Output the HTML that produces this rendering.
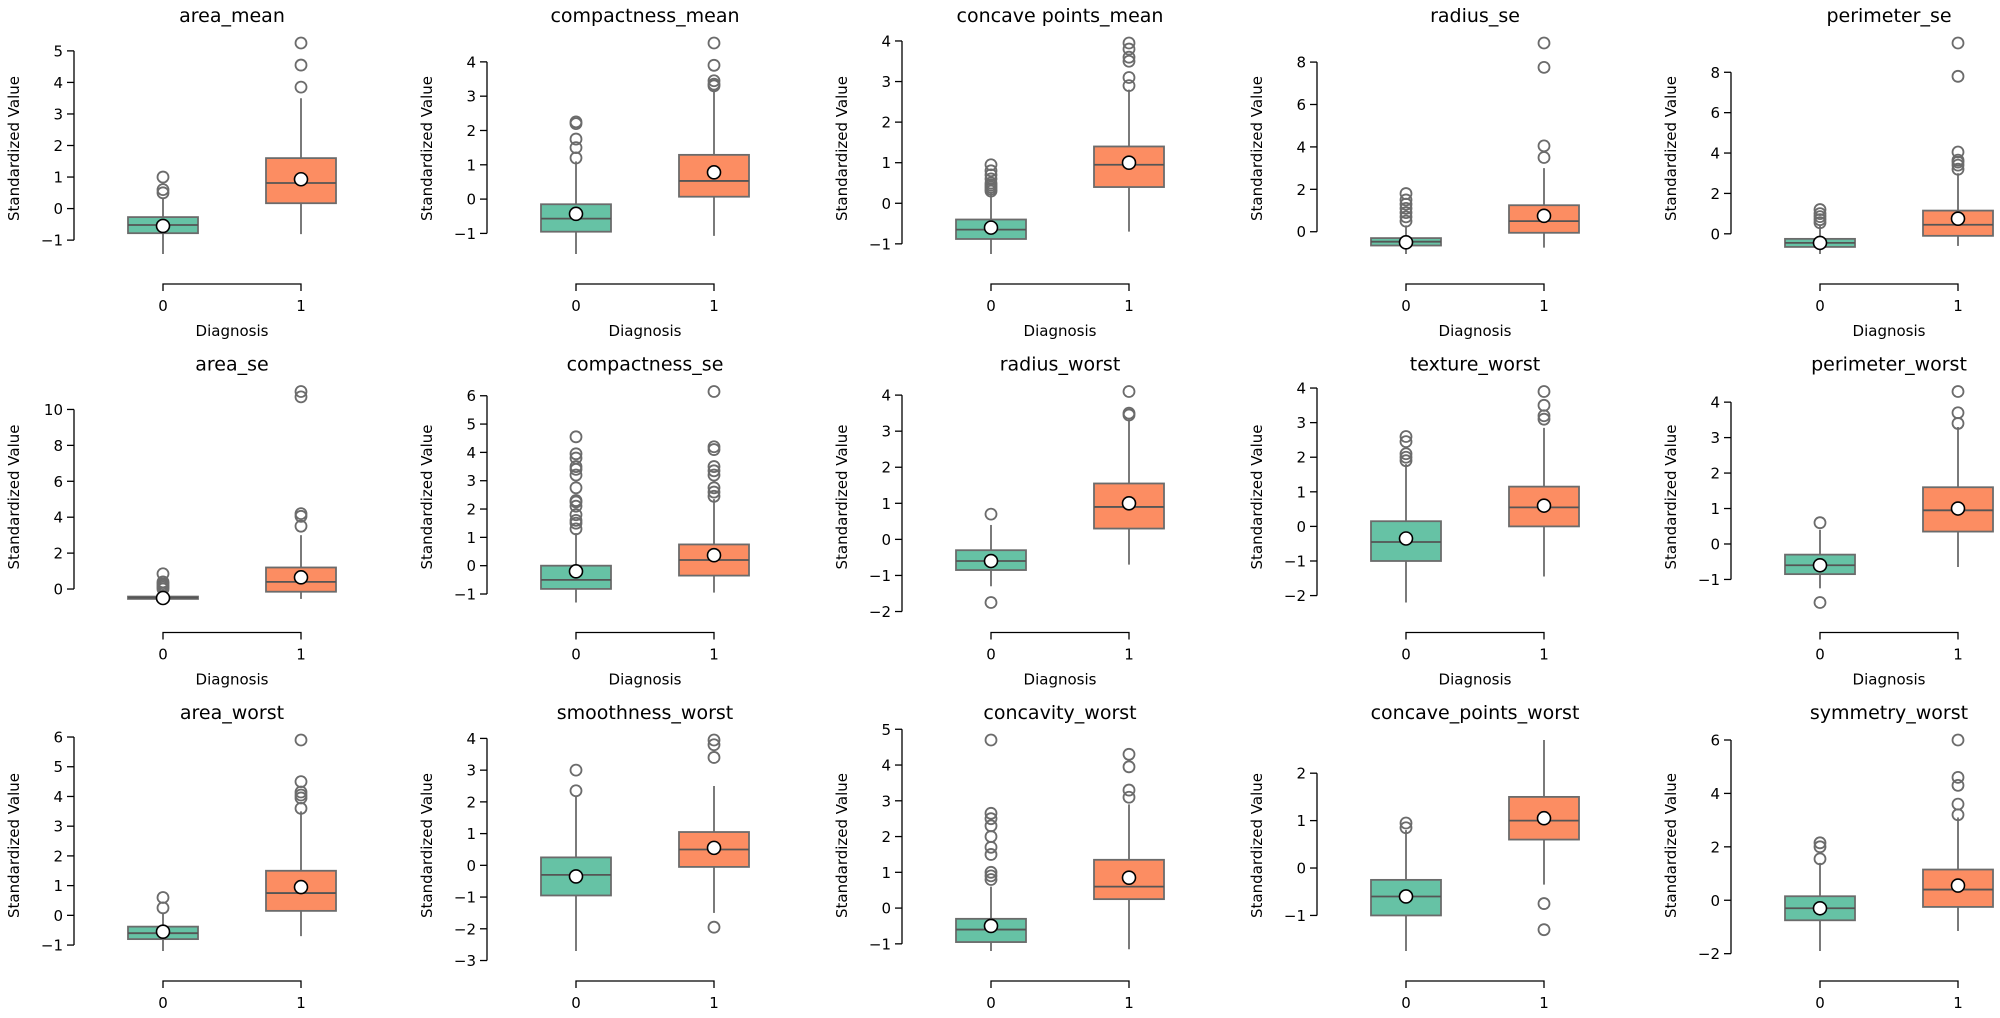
<!DOCTYPE html>
<html><head><meta charset="utf-8">
<style>
html,body{margin:0;padding:0;background:#fff;}
svg{display:block;font-family:"DejaVu Sans","Liberation Sans",sans-serif;}
</style></head>
<body>
<svg id="fig" width="2000" height="1018" viewBox="0 0 2000 1018" xmlns="http://www.w3.org/2000/svg"></svg>
<script>
const titles = ["area_mean","compactness_mean","concave points_mean","radius_se","perimeter_se",
"area_se","compactness_se","radius_worst","texture_worst","perimeter_worst",
"area_worst","smoothness_worst","concavity_worst","concave_points_worst","symmetry_worst"];
const categories = ["0","1"];
const yTicks = [[-1,0,1,2,3,4,5],[-1,0,1,2,3,4],[-1,0,1,2,3,4],[0,2,4,6,8],[0,2,4,6,8],
[0,2,4,6,8,10],[-1,0,1,2,3,4,5,6],[-2,-1,0,1,2,3,4],[-2,-1,0,1,2,3,4],[-1,0,1,2,3,4],
[-1,0,1,2,3,4,5,6],[-3,-2,-1,0,1,2,3,4],[-1,0,1,2,3,4,5],[-1,0,1,2],[-2,0,2,4,6]];
const q1s = [[-0.78,0.17],[-0.95,0.07],[-0.88,0.4],[-0.65,-0.05],[-0.65,-0.1],
[-0.55,-0.15],[-0.82,-0.35],[-0.85,0.3],[-1.0,0.0],[-0.85,0.35],
[-0.8,0.15],[-0.95,-0.05],[-0.95,0.25],[-1.0,0.6],[-0.75,-0.25]];
const medians = [[-0.52,0.81],[-0.57,0.53],[-0.65,0.95],[-0.47,0.5],[-0.45,0.45],
[-0.48,0.4],[-0.5,0.2],[-0.6,0.9],[-0.45,0.55],[-0.6,0.95],
[-0.6,0.75],[-0.3,0.5],[-0.6,0.6],[-0.6,1.0],[-0.3,0.4]];
const q3s = [[-0.27,1.6],[-0.15,1.29],[-0.4,1.4],[-0.3,1.25],[-0.25,1.15],
[-0.42,1.2],[0.0,0.75],[-0.3,1.55],[0.15,1.15],[-0.3,1.6],
[-0.38,1.5],[0.25,1.05],[-0.3,1.35],[-0.25,1.5],[0.15,1.15]];
const whiskerLo = [[-1.44,-0.81],[-1.6,-1.07],[-1.25,-0.7],[-1.05,-0.75],[-1.0,-0.6],
[-0.75,-0.55],[-1.3,-0.95],[-1.3,-0.7],[-2.2,-1.45],[-1.25,-0.65],
[-1.2,-0.7],[-2.7,-1.5],[-1.2,-1.15],[-1.75,-0.35],[-1.9,-1.15]];
const whiskerHi = [[0.35,3.5],[1.1,3.2],[0.25,2.8],[0.3,3.0],[0.4,3.0],
[-0.2,3.0],[1.15,2.35],[0.4,3.3],[1.8,2.85],[0.4,3.3],
[0.1,3.5],[2.2,2.5],[0.6,2.9],[0.8,2.7],[1.4,3.1]];
const means = [[-0.55,0.93],[-0.43,0.78],[-0.6,1.0],[-0.5,0.75],[-0.45,0.75],
[-0.5,0.65],[-0.2,0.37],[-0.6,1.0],[-0.35,0.6],[-0.6,1.0],
[-0.55,0.95],[-0.35,0.55],[-0.5,0.85],[-0.6,1.05],[-0.3,0.55]];
const outliers = [
[[0.5,0.6,1.0],[3.85,4.55,5.25]],
[[1.2,1.5,1.75,2.2,2.25],[3.3,3.35,3.45,3.9,4.55]],
[[0.3,0.35,0.4,0.45,0.5,0.6,0.7,0.8,0.95],[2.9,3.1,3.5,3.6,3.8,3.95]],
[[0.5,0.7,0.9,1.1,1.3,1.5,1.8],[3.5,4.05,7.75,8.9]],
[[0.55,0.7,0.85,1.0,1.2],[3.2,3.4,3.55,3.65,4.05,7.8,9.45]],
[[0,0.1,0.2,0.3,0.4,0.85],[3.5,4.05,4.2,10.7,11.0]],
[[1.3,1.5,1.6,1.8,2.1,2.25,2.3,2.75,3.2,3.4,3.5,3.8,3.95,4.55],[2.45,2.6,2.75,3.2,3.35,3.5,4.1,4.2,6.15]],
[[0.7,-1.75],[3.45,3.5,4.1]],
[[1.9,2.0,2.1,2.45,2.6],[3.1,3.2,3.5,3.9]],
[[0.6,-1.65],[3.4,3.7,4.3]],
[[0.25,0.6],[3.6,3.95,4.05,4.15,4.5,5.9]],
[[2.35,3.0],[-1.95,3.4,3.8,3.95]],
[[0.8,0.9,1.0,1.5,1.7,2.0,2.3,2.5,2.65,4.7],[3.1,3.3,3.95,4.3]],
[[0.85,0.95],[-0.75,-1.3]],
[[1.55,2.0,2.15],[3.2,3.6,4.3,4.6,6.0]]];

const NS = "http://www.w3.org/2000/svg";
const svg = document.getElementById("fig");
const colors = ["#66c2a5","#fc8d62"];
function mk(tag, attrs, parent){const e=document.createElementNS(NS,tag);for(const k in attrs)e.setAttribute(k,attrs[k]);(parent||svg).appendChild(e);return e;}

for (let p = 0; p < titles.length; p++) {
  const r = Math.floor(p/5), c = p%5;
  const cat0 = [163,576,991,1406,1820][c];
  const xPos = i => cat0 + i*138;
  const dTop = 43 + r*348.5, dBot = 254 + r*348.5;
  let all = [];
  for (let g=0; g<2; g++) all = all.concat([whiskerLo[p][g], whiskerHi[p][g], q1s[p][g], q3s[p][g]], outliers[p][g]);
  const vmax = Math.max(...all), vmin = Math.min(...all);
  const yPos = v => dTop + (vmax - v)/(vmax - vmin)*(dBot - dTop);

  const gp = mk("g", {});
  
  

  const t = mk("text", {x:(xPos(0)+xPos(1))/2, y:15 + r*348.5 + 7, "text-anchor":"middle", "font-size":"19", fill:"#000"}, gp);
  t.textContent = titles[p];
  
  

  const sx = cat0 - 89;
  const tk = yTicks[p];
  const ya = mk("line", {x1:sx, x2:sx, y1:yPos(tk[tk.length-1]), y2:yPos(tk[0]), stroke:"#000", "stroke-width":1.3}, gp);
  
  
  tk.forEach(v => {
    mk("line", {x1:sx-7, x2:sx, y1:yPos(v), y2:yPos(v), stroke:"#000", "stroke-width":1.3}, gp);
    const tl = mk("text", {x:sx-11, y:yPos(v)+5.5, "text-anchor":"end", "font-size":"15", fill:"#000"}, gp);
    tl.textContent = v < 0 ? "\u2212" + Math.abs(v) : String(v);
    
    
  });
  const yl = mk("text", {transform:`translate(${sx-55},${(dTop+dBot)/2}) rotate(-90)`, "text-anchor":"middle", "font-size":"15", fill:"#000"}, gp);
  yl.textContent = "Standardized Value";
  
  

  const xy = 284 + r*348.5;
  const xa = mk("path", {d:`M${xPos(0)},${xy+7} V${xy} H${xPos(1)} V${xy+7}`, fill:"none", stroke:"#000", "stroke-width":1.3}, gp);
  
  
  categories.forEach((cName,i) => {
    const xl = mk("text", {x:xPos(i), y:xy+27, "text-anchor":"middle", "font-size":"15", fill:"#000"}, gp);
    xl.textContent = cName;
    
    
  });
  if (r < 2) {
    const xt = mk("text", {x:(xPos(0)+xPos(1))/2, y:xy+52, "text-anchor":"middle", "font-size":"15", fill:"#000"}, gp);
    xt.textContent = "Diagnosis";
    
    
  }

  for (let g=0; g<2; g++) {
    const cx = xPos(g);
    const wl = mk("line", {x1:cx, x2:cx, y1:yPos(whiskerHi[p][g]), y2:yPos(whiskerLo[p][g]), stroke:"#6b6b6b", "stroke-width":1.8}, gp);
    
    
    const b = mk("rect", {x:cx-35, y:yPos(q3s[p][g]), width:70, height:yPos(q1s[p][g])-yPos(q3s[p][g]), fill:colors[g], stroke:"#6b6b6b", "stroke-width":1.8}, gp);
    
    
    const md = mk("line", {x1:cx-35, x2:cx+35, y1:yPos(medians[p][g]), y2:yPos(medians[p][g]), stroke:"#555", "stroke-width":1.8}, gp);
    
    
    outliers[p][g].forEach(v => {
      const o = mk("circle", {cx:cx, cy:yPos(v), r:5.5, fill:"none", stroke:"#6b6b6b", "stroke-width":1.8}, gp);
      
      
    });
    const m = mk("circle", {cx:cx, cy:yPos(means[p][g]), r:6.5, fill:"#fff", stroke:"#000", "stroke-width":1.6}, gp);
    
    
  }
}
</script>
</body></html>
